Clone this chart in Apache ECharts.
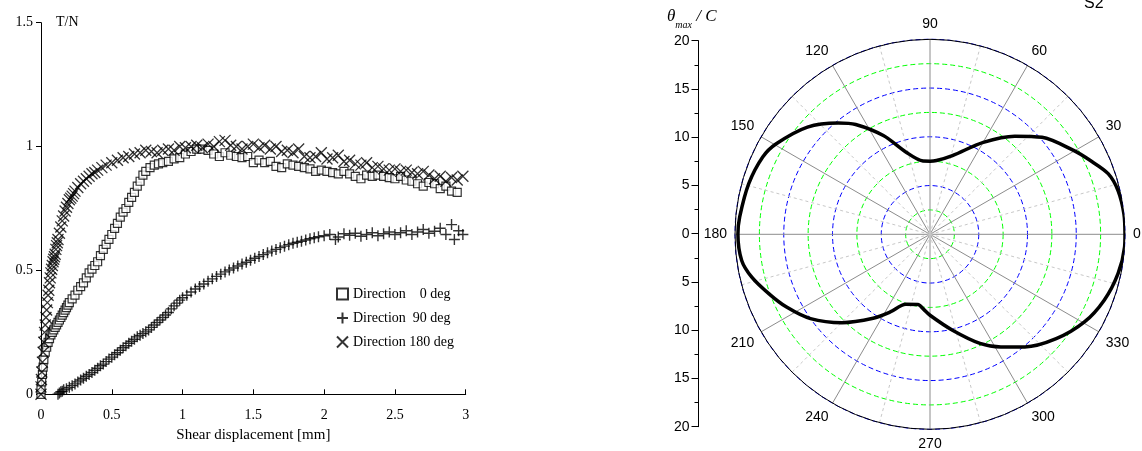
<!DOCTYPE html>
<html>
<head>
<meta charset="utf-8">
<script src="https://cdn.jsdelivr.net/npm/echarts@6/dist/echarts.min.js"></script>
<style>html,body{margin:0;padding:0;background:#fff}#c{width:1142px;height:451px}</style>
</head>
<body>
<div id="c"></div>
<script>
// ---- Left chart data: [shear displacement (mm), T/N] ----
const xTicks = ['0', '0.5', '1', '1.5', '2', '2.5', '3'];
const yTicks = ['0', '0.5', '1', '1.5'];
const legendNames = ['Direction    0 deg', 'Direction  90 deg', 'Direction 180 deg'];

const dir0 = [[0,0],[0,0.02],[0.005,0.05],[0.01,0.08],[0.015,0.11],[0.02,0.14],[0.03,0.17],[0.04,0.19],[0.05,0.21],[0.06,0.225],[0.07,0.24],[0.08,0.25],[0.09,0.26],[0.1,0.27],[0.11,0.28],[0.12,0.29],[0.13,0.3],[0.14,0.31],[0.15,0.32],[0.16,0.33],[0.17,0.34],[0.18,0.35],[0.19,0.36],[0.2,0.37],[0.22,0.385],[0.24,0.4],[0.26,0.42],[0.28,0.435],[0.3,0.45],[0.32,0.47],[0.34,0.49],[0.36,0.505],[0.38,0.52],[0.4,0.535],[0.42,0.56],[0.44,0.585],[0.46,0.605],[0.48,0.625],[0.5,0.645],[0.52,0.67],[0.54,0.69],[0.56,0.715],[0.58,0.735],[0.6,0.75],[0.62,0.775],[0.64,0.795],[0.66,0.815],[0.68,0.84],[0.7,0.86],[0.72,0.885],[0.74,0.9],[0.77,0.915],[0.8,0.925],[0.83,0.93],[0.86,0.935],[0.9,0.94],[0.94,0.95],[0.98,0.955],[1.02,0.97],[1.06,0.98],[1.1,0.99],[1.14,0.99],[1.18,0.985],[1.22,0.97],[1.26,0.96],[1.3,0.975],[1.34,0.965],[1.38,0.96],[1.42,0.955],[1.46,0.96],[1.5,0.935],[1.54,0.945],[1.58,0.935],[1.62,0.94],[1.66,0.92],[1.7,0.915],[1.74,0.93],[1.78,0.925],[1.82,0.92],[1.86,0.915],[1.9,0.91],[1.94,0.9],[1.98,0.905],[2.02,0.9],[2.06,0.895],[2.1,0.89],[2.14,0.9],[2.18,0.89],[2.22,0.88],[2.26,0.87],[2.3,0.885],[2.34,0.88],[2.38,0.885],[2.42,0.88],[2.46,0.875],[2.5,0.87],[2.54,0.88],[2.58,0.865],[2.62,0.86],[2.66,0.85],[2.7,0.84],[2.74,0.855],[2.78,0.85],[2.82,0.83],[2.86,0.84],[2.9,0.82],[2.94,0.815]];

const dir90 = [[0.12,0],[0.13,0.005],[0.14,0.01],[0.15,0.012],[0.16,0.018],[0.18,0.022],[0.2,0.028],[0.22,0.035],[0.24,0.042],[0.26,0.05],[0.28,0.058],[0.3,0.065],[0.32,0.073],[0.34,0.08],[0.36,0.088],[0.38,0.097],[0.4,0.105],[0.42,0.115],[0.44,0.122],[0.46,0.132],[0.48,0.142],[0.5,0.15],[0.52,0.16],[0.54,0.168],[0.56,0.178],[0.58,0.188],[0.6,0.196],[0.62,0.206],[0.64,0.214],[0.66,0.222],[0.68,0.232],[0.7,0.238],[0.72,0.245],[0.74,0.252],[0.76,0.26],[0.78,0.27],[0.8,0.28],[0.82,0.29],[0.84,0.3],[0.86,0.31],[0.88,0.32],[0.9,0.33],[0.92,0.345],[0.94,0.357],[0.96,0.368],[0.98,0.38],[1.0,0.39],[1.03,0.4],[1.06,0.413],[1.09,0.425],[1.12,0.435],[1.15,0.445],[1.18,0.456],[1.21,0.466],[1.24,0.476],[1.27,0.485],[1.3,0.494],[1.33,0.502],[1.36,0.51],[1.39,0.518],[1.42,0.526],[1.45,0.533],[1.48,0.541],[1.51,0.549],[1.54,0.556],[1.57,0.564],[1.6,0.571],[1.63,0.578],[1.66,0.585],[1.69,0.592],[1.72,0.598],[1.75,0.604],[1.78,0.61],[1.81,0.614],[1.84,0.618],[1.87,0.623],[1.9,0.628],[1.93,0.632],[1.96,0.636],[2.0,0.64],[2.04,0.645],[2.08,0.625],[2.1,0.635],[2.14,0.648],[2.18,0.642],[2.22,0.65],[2.26,0.638],[2.3,0.645],[2.34,0.652],[2.38,0.64],[2.42,0.648],[2.46,0.655],[2.5,0.645],[2.54,0.652],[2.58,0.66],[2.62,0.645],[2.66,0.655],[2.7,0.665],[2.74,0.65],[2.78,0.658],[2.82,0.67],[2.86,0.645],[2.9,0.685],[2.92,0.625],[2.95,0.66],[2.98,0.645]];

const dir180 = [[0,0],[0,0.03],[0.003,0.06],[0.006,0.09],[0.01,0.13],[0.015,0.17],[0.02,0.21],[0.025,0.25],[0.03,0.28],[0.035,0.31],[0.04,0.34],[0.045,0.37],[0.05,0.4],[0.055,0.42],[0.06,0.45],[0.065,0.47],[0.07,0.49],[0.075,0.505],[0.08,0.52],[0.085,0.535],[0.09,0.545],[0.095,0.555],[0.1,0.565],[0.105,0.585],[0.11,0.6],[0.115,0.612],[0.12,0.625],[0.13,0.65],[0.14,0.675],[0.15,0.7],[0.16,0.72],[0.17,0.74],[0.18,0.755],[0.19,0.77],[0.2,0.785],[0.21,0.792],[0.22,0.8],[0.23,0.81],[0.24,0.82],[0.26,0.835],[0.28,0.85],[0.3,0.86],[0.32,0.87],[0.34,0.88],[0.36,0.89],[0.38,0.895],[0.4,0.905],[0.43,0.915],[0.46,0.925],[0.5,0.935],[0.54,0.945],[0.58,0.955],[0.62,0.96],[0.66,0.97],[0.7,0.975],[0.74,0.985],[0.78,0.98],[0.82,0.975],[0.86,0.985],[0.9,0.99],[0.94,0.985],[0.98,1.0],[1.02,0.995],[1.06,1.0],[1.1,1.005],[1.14,0.995],[1.18,1.01],[1.22,1.0],[1.26,1.02],[1.3,1.025],[1.34,1.005],[1.38,1.0],[1.42,0.99],[1.46,1.0],[1.5,1.01],[1.54,0.995],[1.58,1.005],[1.62,0.99],[1.66,1.0],[1.7,0.98],[1.74,0.985],[1.78,0.975],[1.82,0.99],[1.86,0.96],[1.9,0.955],[1.94,0.96],[1.98,0.975],[2.02,0.95],[2.06,0.955],[2.1,0.965],[2.14,0.94],[2.18,0.945],[2.22,0.93],[2.26,0.925],[2.3,0.935],[2.34,0.915],[2.38,0.92],[2.42,0.91],[2.46,0.905],[2.5,0.91],[2.54,0.9],[2.58,0.905],[2.62,0.895],[2.66,0.89],[2.7,0.9],[2.74,0.885],[2.78,0.87],[2.82,0.88],[2.86,0.86],[2.9,0.875],[2.94,0.865],[2.98,0.88]];

// ---- Polar chart data: angle (deg) and theta_max / C ----
const polarAngles = [0,6,13.1,18.8,24.7,30.3,40.9,49.2,59.9,74.1,85,90,95.4,106.4,115.3,124.1,129.5,138.8,149.5,155.2,164.4,174.8,180,187.9,193.5,200.3,206.9,215.2,225.1,235.9,242.9,250.9,260.2,265,270,283.2,294.6,302.2,310.1,320.4,330.3,339.3,348.2,356.3,360];
const polarValues = [20.0,20.0,19.8,19.3,18.1,17.05,15.2,13.3,10.9,8.4,7.6,7.5,7.55,8.8,11.2,13.6,14.8,16.7,18.3,18.9,19.3,19.6,19.7,19.5,18.8,17.6,16.5,15.0,12.8,10.4,8.95,7.6,7.3,7.7,8.3,10.1,12.3,13.65,15.1,16.8,18.2,19.1,19.7,20.0,20.0];
const angleTicks = [0,30,60,90,120,150,180,210,240,270,300,330];
const radialTicks = [20,15,10,5,0,5,10,15,20];

const serif = 'Liberation Serif';
const sans = 'Liberation Sans';

const plusPath = 'path://M0,5L10,5M5,0L5,10';
const crossPath = 'path://M0,0L10,10M10,0L0,10';

const chart = echarts.init(document.getElementById('c'), null, {renderer: 'canvas'});
const option = {
  animation: false,
  backgroundColor: '#fff',
  grid: [
    {left: 41, top: 22.7, width: 424.7, height: 371.6},
    {left: 698.5, top: 40.7, width: 1, height: 386}
  ],
  xAxis: [
    {gridIndex: 0, type: 'value', min: 0, max: 3, interval: 0.5,
     axisLine: {lineStyle: {color: '#000', width: 1}},
     axisTick: {inside: true, length: 5, lineStyle: {color: '#000'}},
     axisLabel: {color: '#000', fontFamily: serif, fontSize: 14, margin: 14,
       formatter: (v) => xTicks[Math.round(v / 0.5)]},
     splitLine: {show: false},
     name: 'Shear displacement [mm]', nameLocation: 'middle', nameGap: 32,
     nameTextStyle: {color: '#000', fontFamily: serif, fontSize: 15}},
    {gridIndex: 1, type: 'value', show: false, min: 0, max: 1}
  ],
  yAxis: [
    {gridIndex: 0, type: 'value', min: 0, max: 1.5, interval: 0.5,
     axisLine: {show: true, lineStyle: {color: '#000', width: 1}},
     axisTick: {show: true, length: 5, lineStyle: {color: '#000'}},
     axisLabel: {color: '#000', fontFamily: serif, fontSize: 14, margin: 8,
       formatter: (v) => yTicks[Math.round(v / 0.5)]},
     splitLine: {show: false}},
    {gridIndex: 1, type: 'value', min: -20, max: 20, interval: 5,
     axisLine: {show: true, lineStyle: {color: '#000', width: 1}},
     axisTick: {show: true, length: 7, lineStyle: {color: '#000'}},
     minorTick: {show: true, splitNumber: 2, length: 4, lineStyle: {color: '#000'}},
     axisLabel: {color: '#000', fontFamily: sans, fontSize: 14, margin: 9,
       formatter: (v) => String(radialTicks[Math.round((20 - v) / 5)])},
     splitLine: {show: false}}
  ],
  polar: {center: [930, 234.3], radius: 195},
  angleAxis: {
    type: 'value', min: 0, max: 360, interval: 30, startAngle: 0, clockwise: false,
    axisLine: {show: true, lineStyle: {color: '#000', width: 1}},
    axisTick: {show: false},
    minorTick: {show: false, splitNumber: 2},
    axisLabel: {color: '#000', fontFamily: sans, fontSize: 14, margin: 8,
      formatter: (v) => (angleTicks.indexOf(v) >= 0 ? String(v) : '')},
    splitLine: {show: true, lineStyle: {color: '#8c8c8c', width: 1}},
    minorSplitLine: {show: true, lineStyle: {color: '#c8c8c8', width: 1, type: [3, 3]}}
  },
  radiusAxis: {
    type: 'value', min: 0, max: 20, interval: 2.5,
    axisLine: {show: false}, axisTick: {show: false}, axisLabel: {show: false},
    splitLine: {show: true, lineStyle: {color: ['#0000ff', '#00ff00'], width: 1, type: [5, 3]}}
  },
  legend: {
    orient: 'vertical', left: 331, top: 282, itemGap: 10, itemWidth: 11, itemHeight: 11,
    textStyle: {color: '#000', fontFamily: serif, fontSize: 14},
    data: legendNames
  },
  graphic: [
    {type: 'text', left: 56, top: 15,
     style: {text: 'T/N', fill: '#000', font: '14px "Liberation Serif"'}},
    {type: 'text', left: 1084, top: -4,
     style: {text: 'S2', fill: '#000', font: '16px "Liberation Sans"'}},
    {type: 'text', left: 667, top: 8,
     style: {
       text: '{t|θ}{s|max}{t| / C}',
       rich: {
         t: {fontFamily: serif, fontStyle: 'italic', fontSize: 17, fill: '#000', verticalAlign: 'bottom'},
         s: {fontFamily: serif, fontStyle: 'italic', fontSize: 10, fill: '#000', verticalAlign: 'bottom', padding: [0, 0, -5, 0]}
       }
     }}
  ],
  series: [
    {name: legendNames[0], type: 'scatter', xAxisIndex: 0, yAxisIndex: 0, data: dir0,
     symbol: 'rect', symbolSize: 8,
     itemStyle: {color: '#fff', borderColor: '#000', borderWidth: 1.2}},
    {name: legendNames[1], type: 'scatter', xAxisIndex: 0, yAxisIndex: 0, data: dir90,
     symbol: plusPath, symbolSize: 11,
     itemStyle: {color: 'rgba(0,0,0,0)', borderColor: '#000', borderWidth: 1.4}},
    {name: legendNames[2], type: 'scatter', xAxisIndex: 0, yAxisIndex: 0, data: dir180,
     symbol: crossPath, symbolSize: 11,
     itemStyle: {color: 'rgba(0,0,0,0)', borderColor: '#000', borderWidth: 1.3}},
    {type: 'line', coordinateSystem: 'polar', smooth: 0.3, symbol: 'none',
     data: polarAngles.map((a, i) => [polarValues[i], a]),
     lineStyle: {color: '#000', width: 3.5}}
  ]
};
chart.setOption(option);
</script>
</body>
</html>
